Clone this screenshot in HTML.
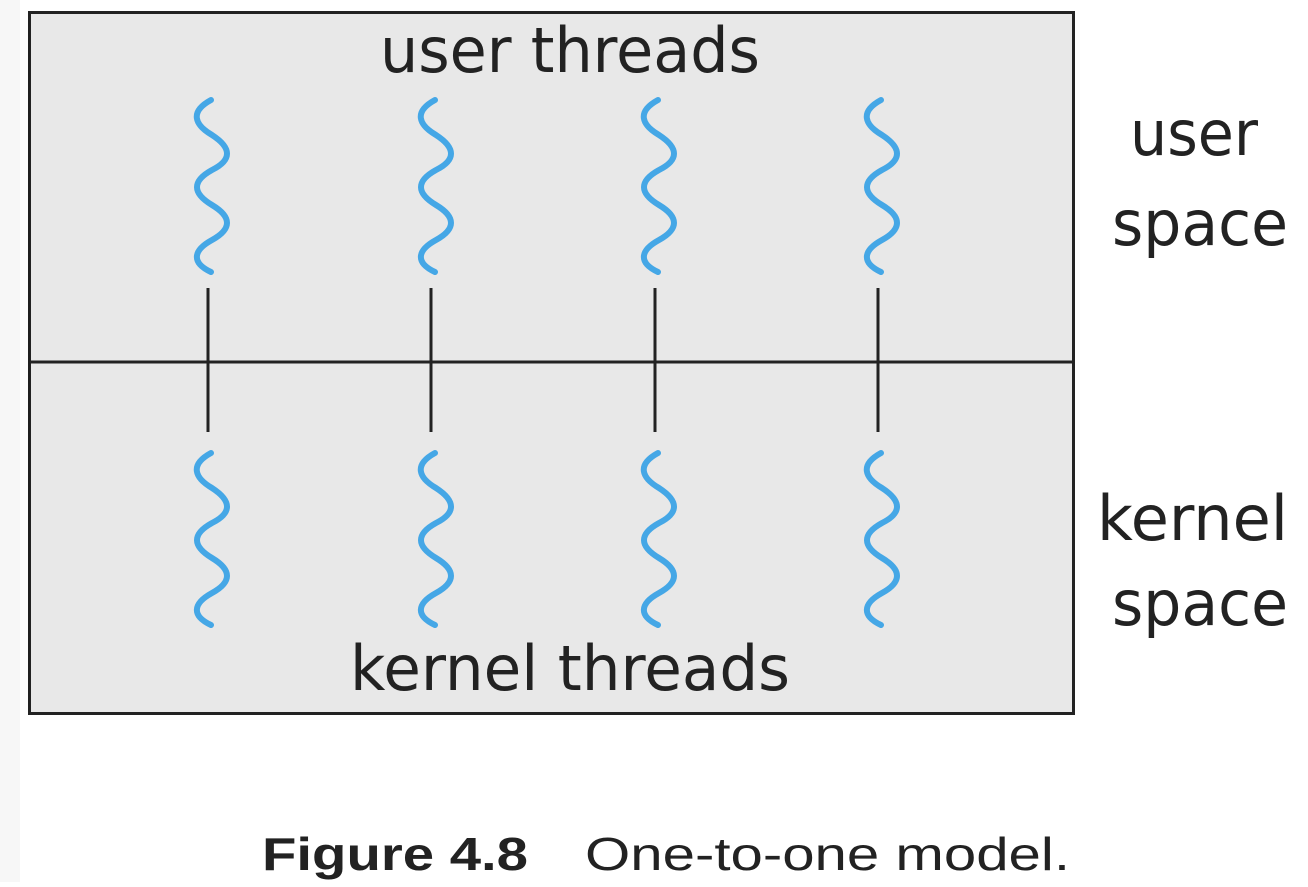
<!DOCTYPE html>
<html><head><style>
body{margin:0;width:1308px;height:882px;background:#fff;overflow:hidden}
</style></head><body>
<svg width="1308" height="882" xmlns="http://www.w3.org/2000/svg">
<rect x="0" y="0" width="20" height="882" fill="#f7f7f7"/>
<rect x="29.5" y="12.5" width="1044" height="701" fill="#e8e8e8" stroke="#222" stroke-width="3"/>
<line x1="29" y1="362" x2="1074" y2="362" stroke="#222" stroke-width="3"/>
<defs>
<path id="w" d="M0,0 C-22,12 -16,25 1,35 C21,48 21,60 1,70 C-19,81 -19,93 1,105 C21,117 21,129 1,140 C-19,151 -19,163 0,172" fill="none" stroke="#45a7e6" stroke-width="6" stroke-linecap="round"/>
</defs>
<g>
<use href="#w" x="211" y="100"/><use href="#w" x="435" y="100"/><use href="#w" x="658" y="100"/><use href="#w" x="881" y="100"/>
<use href="#w" x="211" y="453"/><use href="#w" x="435" y="453"/><use href="#w" x="658" y="453"/><use href="#w" x="881" y="453"/>
</g>
<g stroke="#222" stroke-width="3">
<line x1="208" y1="288" x2="208" y2="432"/><line x1="431" y1="288" x2="431" y2="432"/>
<line x1="655" y1="288" x2="655" y2="432"/><line x1="878" y1="288" x2="878" y2="432"/>
</g>
<g font-family="'DejaVu Sans','Liberation Sans',sans-serif" font-size="62" fill="#222">
<text x="380" y="72" textLength="380" lengthAdjust="spacingAndGlyphs">user threads</text>
<text x="350" y="690" textLength="440" lengthAdjust="spacingAndGlyphs">kernel threads</text>
<text x="1130" y="155" textLength="128" lengthAdjust="spacingAndGlyphs">user</text>
<text x="1112" y="245" textLength="176" lengthAdjust="spacingAndGlyphs">space</text>
<text x="1097" y="540" textLength="191" lengthAdjust="spacingAndGlyphs">kernel</text>
<text x="1112" y="625" textLength="176" lengthAdjust="spacingAndGlyphs">space</text>
</g>
<text x="262" y="870" font-family="'Liberation Sans',sans-serif" font-size="46" font-weight="bold" fill="#222" textLength="266" lengthAdjust="spacingAndGlyphs">Figure 4.8</text>
<text x="585" y="870" font-family="'Liberation Sans',sans-serif" font-size="46" fill="#222" textLength="485" lengthAdjust="spacingAndGlyphs">One-to-one model.</text>
</svg>
</body></html>
